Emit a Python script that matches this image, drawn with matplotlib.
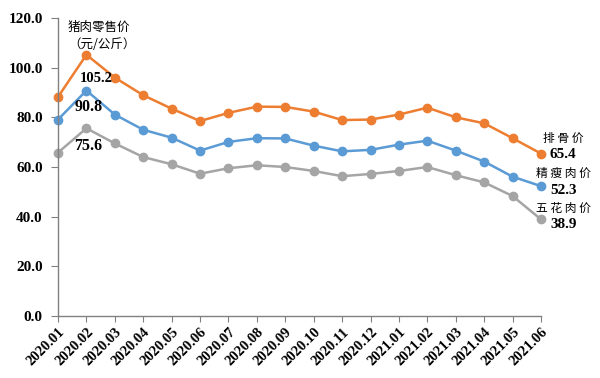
import matplotlib
matplotlib.use("Agg")
import matplotlib.pyplot as plt

months = ["2020.01", "2020.02", "2020.03", "2020.04", "2020.05", "2020.06",
          "2020.07", "2020.08", "2020.09", "2020.10", "2020.11", "2020.12",
          "2021.01", "2021.02", "2021.03", "2021.04", "2021.05", "2021.06"]
ribs = [88.2, 105.2, 96.0, 88.9, 83.5, 78.5, 81.8, 84.3, 84.2, 82.3, 78.9, 79.1,
        81.1, 83.9, 80.0, 77.6, 71.6, 65.4]
lean = [79.1, 90.8, 81.1, 75.0, 71.8, 66.6, 70.1, 71.6, 71.5, 68.6, 66.3, 66.9,
        69.0, 70.6, 66.6, 62.2, 56.1, 52.3]
belly = [65.8, 75.6, 69.5, 64.0, 61.1, 57.3, 59.5, 60.7, 60.0, 58.4, 56.3, 57.2,
         58.4, 60.0, 56.7, 53.8, 48.3, 38.9]
yticks = [0, 20, 40, 60, 80, 100, 120]

serif = "Liberation Serif"
cjk = ["Noto Sans CJK SC", "DejaVu Sans"]

fig = plt.figure(figsize=(6, 3.78), dpi=100)
ax = fig.add_axes([58 / 600, 1 - 316 / 378, (541 - 58) / 600, (316 - 18) / 378])

x = list(range(len(months)))
ax.plot(x, ribs, color="#ED7D31", marker="o", markersize=6, linewidth=1.8, clip_on=False)
ax.plot(x, lean, color="#5B9BD5", marker="o", markersize=6, linewidth=1.8, clip_on=False)
ax.plot(x, belly, color="#A5A5A5", marker="o", markersize=6, linewidth=1.8, clip_on=False)

ax.set_xlim(0, len(months) - 1)
ax.set_ylim(0, 120)
ax.set_yticks(yticks)
ax.set_yticklabels([f"{v:.1f}" for v in yticks], fontfamily=serif,
                   fontweight="bold", fontsize=11)
ax.set_xticks(x)
ax.set_xticklabels(months, rotation=45, ha="right", rotation_mode="anchor",
                   fontfamily=serif, fontweight="bold", fontsize=10.5)
ax.tick_params(axis="both", direction="out", length=4, color="#808080", pad=3)
ax.tick_params(axis="y", length=5, pad=6)

for side in ("top", "right"):
    ax.spines[side].set_visible(False)
for side in ("left", "bottom"):
    ax.spines[side].set_color("#808080")
    ax.spines[side].set_linewidth(1.0)

ax.text(0.35, 119, "猪肉零售价\n（元/公斤）", family=cjk, fontsize=9,
        va="top", ha="left", linespacing=1.5)

peak = 1
ax.annotate(f"{ribs[peak]:.1f}", (peak, ribs[peak]), xytext=(7, -17),
            textcoords="offset points", ha="center", va="center",
            family=serif, fontweight="bold", fontsize=10.5)
ax.annotate(f"{lean[peak]:.1f}", (peak, lean[peak]), xytext=(1.5, -12),
            textcoords="offset points", ha="center", va="center",
            family=serif, fontweight="bold", fontsize=11.5)
ax.annotate(f"{belly[peak]:.1f}", (peak, belly[peak]), xytext=(1.5, -12.5),
            textcoords="offset points", ha="center", va="center",
            family=serif, fontweight="bold", fontsize=11.5)

last = len(months) - 1
end_labels = [("排 骨 价", ribs, 11, -1), ("精 瘦 肉 价", lean, 9, -3.5),
              ("五 花 肉 价", belly, 8, -4)]
for name, vals, dy_name, dy_val in end_labels:
    ax.annotate(name, (last, vals[last]), xytext=(16, dy_name),
                textcoords="offset points", ha="center", va="center",
                family=cjk, fontsize=8.5, annotation_clip=False)
    ax.annotate(f"{vals[last]:.1f}", (last, vals[last]), xytext=(16, dy_val),
                textcoords="offset points", ha="center", va="center",
                family=serif, fontweight="bold", fontsize=11,
                annotation_clip=False)

fig.savefig("out.png", dpi=100)
